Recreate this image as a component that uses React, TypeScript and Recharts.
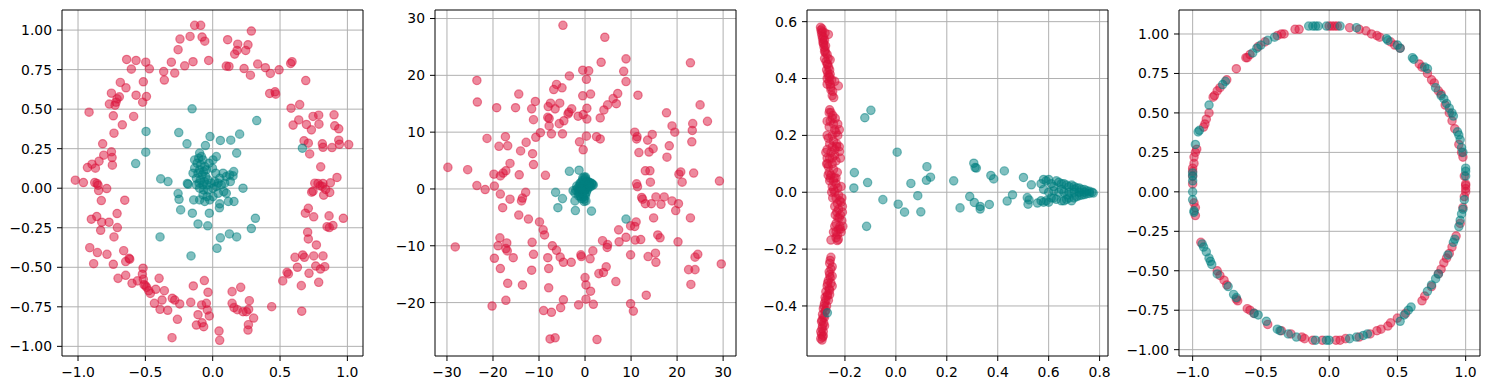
import { ReferenceLine, Scatter, ScatterChart, XAxis, YAxis } from 'recharts';

type Pt = [number, number];

const RED = '#dc143c';
const TEAL = '#008080';

// panel 1: raw circles
const p1Red: Pt[] = [
  [-0.134, 1.03], [-0.089, 1.03], [0.287, 0.994], [-0.168, 0.96], [-0.079, 0.956], [-0.059, 0.93], [-0.243, 0.943],
  [-0.257, 0.876], [0.111, 0.939], [0.186, 0.911], [0.181, 0.871], [0.262, 0.907], [0.245, 0.871], [0.163, 0.848],
  [-0.307, 0.797], [-0.146, 0.8], [-0.03, 0.808], [-0.208, 0.774], [-0.282, 0.728], [-0.364, 0.738], [-0.359, 0.684],
  [-0.497, 0.797], [-0.47, 0.755], [-0.569, 0.808], [-0.639, 0.814], [-0.604, 0.753], [0.101, 0.772], [0.121, 0.77],
  [0.233, 0.757], [0.28, 0.715], [0.334, 0.785], [0.391, 0.762], [0.428, 0.726], [0.493, 0.749], [0.579, 0.789],
  [0.589, 0.8], [0.691, 0.681], [0.423, 0.599], [0.463, 0.61], [0.468, 0.595], [0.582, 0.506], [0.646, 0.529],
  [0.639, 0.432], [0.597, 0.399], [0.696, 0.403], [0.733, 0.369], [0.745, 0.454], [0.787, 0.462], [0.789, 0.405],
  [0.901, 0.464], [0.906, 0.395], [0.936, 0.376], [0.678, 0.3], [0.71, 0.285], [0.72, 0.217], [0.814, 0.281],
  [0.819, 0.259], [0.886, 0.257], [0.936, 0.304], [0.941, 0.278], [1.01, 0.276], [0.802, 0.135], [0.923, 0.068],
  [0.874, 0.034], [0.758, 0.032], [0.782, 0.03], [0.797, 0.015], [0.819, 0.03], [0.839, -0.008], [0.869, -0.027],
  [0.824, -0.044], [0.745, -0.019], [0.735, -0.025], [0.814, 0.011], [0.688, -0.158], [0.71, -0.127], [0.75, -0.181],
  [0.864, -0.175], [0.893, -0.236], [0.849, -0.243], [0.866, -0.249], [0.97, -0.19], [0.705, -0.278], [0.71, -0.321],
  [0.77, -0.359], [0.668, -0.422], [0.681, -0.437], [0.75, -0.428], [0.819, -0.428], [0.832, -0.496], [0.8, -0.511],
  [0.765, -0.492], [0.715, -0.538], [0.787, -0.595], [0.611, -0.437], [0.629, -0.5], [0.552, -0.532], [0.562, -0.542],
  [0.52, -0.586], [0.658, -0.616], [0.661, -0.778], [0.438, -0.749], [0.208, -0.627], [0.144, -0.654], [0.144, -0.728],
  [0.158, -0.755], [0.183, -0.768], [0.225, -0.781], [0.25, -0.781], [0.267, -0.766], [0.304, -0.821], [0.265, -0.863],
  [0.262, -0.897], [0.272, -0.711], [-0.062, -0.584], [-0.144, -0.618], [-0.035, -0.658], [-0.082, -0.738],
  [-0.047, -0.728], [-0.04, -0.77], [-0.109, -0.8], [-0.025, -0.808], [-0.079, -0.851], [-0.067, -0.876],
  [-0.121, -0.865], [0.047, -0.903], [0.052, -0.962], [-0.163, -0.722], [-0.245, -0.732], [-0.262, -0.829],
  [-0.302, -0.945], [-0.3, -0.696], [-0.282, -0.707], [-0.398, -0.57], [-0.359, -0.648], [-0.423, -0.639],
  [-0.376, -0.707], [-0.391, -0.766], [-0.334, -0.772], [-0.433, -0.728], [-0.463, -0.665], [-0.5, -0.616],
  [-0.49, -0.627], [-0.517, -0.506], [-0.522, -0.544], [-0.515, -0.576], [-0.51, -0.61], [-0.475, -0.648],
  [-0.559, -0.586], [-0.616, -0.449], [-0.621, -0.443], [-0.646, -0.551], [-0.599, -0.601], [-0.646, -0.464],
  [-0.661, -0.395], [-0.738, -0.481], [-0.703, -0.57], [-0.913, -0.376], [-0.884, -0.477], [-0.856, -0.407],
  [-0.785, -0.418], [-0.733, -0.308], [-0.708, -0.249], [-0.71, -0.16], [-0.901, -0.196], [-0.861, -0.179],
  [-0.824, -0.215], [-0.832, -0.266], [-0.77, -0.215], [-0.653, -0.076], [-0.827, -0.078], [-1.02, 0.051],
  [-0.96, 0.036], [-0.876, 0.036], [-0.859, 0.03], [-0.847, -0.015], [-0.851, 0.019], [-0.787, -0.002],
  [-0.93, 0.131], [-0.896, 0.152], [-0.871, 0.127], [-0.844, 0.171], [-0.809, 0.209], [-0.817, 0.281],
  [-0.752, 0.23], [-0.747, 0.194], [-0.745, 0.146], [-0.733, 0.348], [-0.671, 0.401], [-0.738, 0.458],
  [-0.918, 0.481], [-0.767, 0.532], [-0.718, 0.544], [-0.752, 0.601], [-0.693, 0.578], [-0.71, 0.565],
  [-0.725, 0.525], [-0.686, 0.669], [-0.644, 0.635], [-0.587, 0.454], [-0.569, 0.588], [-0.52, 0.544],
  [-0.492, 0.58], [-0.515, 0.673],
];

const p1Teal: Pt[] = [
  [-0.153, 0.502], [0.327, 0.428], [-0.495, 0.359], [-0.497, 0.228], [-0.572, 0.156], [-0.252, 0.352],
  [-0.191, 0.281], [-0.02, 0.327], [-0.054, 0.27], [0.057, 0.302], [0.134, 0.304], [0.2, 0.342], [0.178, 0.222],
  [0.666, 0.253], [-0.386, 0.059], [-0.332, 0.042], [-0.257, -0.034], [-0.25, -0.07], [-0.238, -0.137],
  [-0.183, 0.025], [-0.188, 0.03], [0.225, 0], [-0.151, -0.158], [-0.109, -0.226], [-0.037, -0.238],
  [-0.025, -0.158], [-0.391, -0.308], [-0.161, -0.428], [0.032, -0.38], [0.057, -0.314], [0.124, -0.289],
  [0.178, -0.308], [0.287, -0.255], [0.317, -0.19], [0.158, -0.084], [0.101, -0.032], [0.052, -0.099],
  [0.05, -0.124], [0.131, 0.042], [0.151, 0.078],
  [-0.097, 0.222], [-0.084, 0.2], [-0.104, 0.19], [-0.072, 0.179], [-0.116, 0.158], [-0.089, 0.148],
  [-0.059, 0.137], [-0.134, 0.127], [-0.097, 0.116], [-0.067, 0.105], [-0.047, 0.116], [-0.109, 0.095],
  [-0.079, 0.084], [-0.052, 0.074], [-0.121, 0.063], [-0.092, 0.053], [-0.062, 0.042], [-0.035, 0.053],
  [-0.101, 0.032], [-0.072, 0.021], [-0.042, 0.021], [-0.01, 0.032], [0.015, 0.042], [0.04, 0.032],
  [-0.097, 0], [-0.067, -0.011], [-0.035, -0.011], [0.002, 0], [0.027, 0.011], [0.064, 0.021], [0.089, 0.032],
  [-0.072, -0.042], [-0.042, -0.053], [-0.097, -0.074], [-0.022, -0.074], [-0.059, -0.084], [0.002, -0.053],
  [0.04, -0.032], [0.077, 0.095], [0.101, 0.074], [0.126, 0.084], [0.156, 0.105], [0.002, 0.179], [0.027, 0.2],
  [-0.002, 0.127], [-0.027, 0.158], [-0.134, 0.179], [-0.146, 0.095], [-0.121, 0.021], [0.022, 0.095],
  [0.052, 0.063], [0.082, -0.021], [0.116, -0.084], [-0.141, -0.074],
];

// panel 2
const p2Red: Pt[] = [
  [-4.8, 28.8], [4.3, 26.7], [3.5, 22.3], [8.9, 22.9], [22.9, 22.2], [-23.5, 19.1], [-23.4, 15.3], [-0.5, 20.9],
  [0.8, 20.8], [0.3, 19.3], [-3.4, 19.9], [-6.2, 18.4], [-6.8, 17.5], [-5.0, 17.8], [8.4, 20.7], [8.9, 18.9],
  [-14.4, 16.7], [-19.2, 14.3], [-15.1, 14.3], [-11.6, 14.1], [-10.8, 15.4], [-11.2, 12.2], [-9.7, 9.9],
  [-10.7, 9.1], [-11.2, 4.3], [-8.0, 14.5], [-7.5, 15.1], [-6.5, 14.1], [-5.5, 15.1], [-8.1, 12.6], [-7.8, 12.4],
  [-7.8, 11.1], [-7.3, 9.7], [-5.6, 11.5], [-4.9, 9.7], [-4.6, 12.0], [-3.7, 13.2], [-3.5, 13.5], [-2.9, 14.1],
  [-0.5, 16.4], [1.2, 16.7], [0.4, 14.2], [-0.4, 13.1], [-1.5, 12.8], [0.4, 12.3], [-1.2, 8.3], [-0.4, 6.9],
  [0.3, 9.3], [2.5, 9.2], [3.3, 8.8], [3.3, 12.5], [4.1, 13.9], [4.9, 14.8], [6.1, 15.9], [6.8, 15.0], [7.1, 16.8],
  [11.5, 16.5], [-21.3, 8.9], [-18.7, 7.5], [-17.3, 9.2], [-16.8, 7.6], [-12.8, 8.2], [-14.0, 6.7], [-11.4, 6.2],
  [-29.8, 3.8], [-25.5, 3.4], [-23.5, 0.6], [-21.7, -0.1], [-19.7, 0.5], [-19.8, 2.6], [-18.4, 2.3], [-17.8, 2.8],
  [-17.2, 3.2], [-16.3, 4.5], [-14.3, 2.5], [-18.4, -0.9], [-16.3, -1.8], [-17.9, -3.3], [-12.9, -0.6],
  [-13.6, -1.6], [-13.8, -2.1], [-14.4, -4.6], [-12.3, -5.3], [-8.6, 2.4], [-28.2, -10.2], [-18.5, -8.6],
  [-18.9, -10.0], [-17.0, -9.5], [-17.2, -10.5], [-16.9, -10.9], [-19.7, -12.2], [-18.4, -14.0], [-15.6, -12.1],
  [-16.8, -16.6], [-17.2, -19.6], [-20.2, -20.6], [-13.6, -16.9], [-11.5, -9.4], [-11.2, -11.5], [-11.6, -14.3],
  [-9.9, -5.8], [-9.1, -7.2], [-8.8, -8.1], [-8.1, -12.1], [-7.9, -14.0], [-7.9, -17.4], [-9.0, -21.4],
  [-7.3, -21.7], [-7.6, -26.4], [-6.5, -26.2], [-7.1, -10.0], [-6.2, -10.8], [-5.4, -12.0], [-4.7, -12.9],
  [-3.0, -12.9], [-4.7, -19.5], [-5.3, -20.9], [-1.4, -20.4], [-0.9, -11.6], [-0.8, -11.9], [1.1, -12.3],
  [1.7, -10.9], [0, -15.6], [0.2, -16.9], [1.2, -18.0], [0.2, -19.4], [1.8, -20.3], [2.6, -26.5], [3.0, -14.9],
  [4.0, -14.7], [4.6, -13.7], [3.8, -9.1], [4.9, -9.8], [4.8, -10.3], [6.7, -16.3], [7.3, -7.2], [7.4, -9.3],
  [8.9, -8.5], [9.9, -6.5], [9.9, -11.6], [10.8, -6.6], [10.9, -9.0], [12.1, -8.9], [9.9, -20.2], [10.5, -21.5],
  [13.3, -18.7], [11.1, -5.8], [11.2, 0.9], [11.4, 0.4], [12.3, -1.5], [12.5, -1.8], [13.1, -2.6], [14.4, -2.6],
  [15.4, -1.4], [16.5, -2.7], [17.2, -1.4], [18.9, -2.1], [14.9, -5.1], [13.7, -11.9], [15.3, -11.3],
  [15.4, -12.9], [15.8, -8.1], [16.3, -8.6], [19.7, -3.8], [20.3, -2.6], [20.2, -9.3], [22.9, -5.1], [22.5, -14.2],
  [23.0, -16.8], [23.9, -14.2], [23.9, -12.0], [24.5, -11.5], [29.6, -13.2], [29.2, 1.4], [20.4, 2.6], [20.8, 3.0],
  [21.1, 1.2], [23.6, 2.8], [14.1, 3.2], [14.2, 1.2], [13.1, 3.2], [10.8, 10.0], [11.3, 9.2], [13.6, 8.6],
  [14.6, 9.6], [14.8, 7.1], [13.9, 6.5], [11.7, 6.4], [11.2, 8.8], [17.7, 13.4], [18.9, 11.1], [19.5, 10.0],
  [18.3, 7.6], [17.8, 5.6], [23.4, 11.5], [23.3, 10.3], [23.2, 8.3], [26.6, 11.9], [25.0, 14.8],
];

const p2Teal: Pt[] = [
  [-3.4, 3.1], [-1.3, 3.3], [-6.4, -0.6], [-4.9, -1.7], [-5.9, -3.3], [-2.2, -2.1], [-2.1, -3.8], [1.4, -3.9],
  [8.9, -5.3], [0.1, 2.1], [0.2, -2.1], [1.5, 0.9], [0.9, 1.2], [1.8, 0.7],
  [-0.2, 2.1], [0.1, 1.8], [-0.5, 1.5], [0.3, 1.4], [-0.8, 1.2], [0.6, 1.3], [1.0, 1.1], [1.4, 1.0], [1.6, 0.7],
  [-0.3, 1.0], [0.2, 0.9], [-1.0, 0.8], [-0.6, 0.6], [0.0, 0.5], [0.5, 0.6], [0.9, 0.5], [-1.3, 0.4], [-0.9, 0.2],
  [-0.4, 0.3], [0.2, 0.2], [0.7, 0.2], [-1.6, 0.1], [-2.0, -0.2], [-2.6, -0.3], [-1.2, -0.1], [-0.6, -0.1],
  [0.0, -0.2], [0.5, -0.1], [-1.5, -0.5], [-0.9, -0.6], [-0.3, -0.5], [0.3, -0.6], [-1.2, -0.9], [-0.6, -1.0],
  [0.0, -0.9], [-1.0, -1.3], [-0.4, -1.4], [0.1, -1.2], [-0.8, -1.7], [-0.2, -1.8], [-1.4, -1.2], [-2.2, -0.7],
  [-1.8, 0.5], [-0.1, 0.0], [-0.7, 0.0], [-1.1, 1.0], [0.4, 1.0], [-0.2, -2.2], [-0.5, 1.9], [1.2, 0.4],
];

// panel 3
const p3Red: Pt[] = [
  [-0.296, 0.58], [-0.294, 0.57], [-0.292, 0.56], [-0.29, 0.55], [-0.288, 0.54], [-0.285, 0.53], [-0.283, 0.52],
  [-0.282, 0.51], [-0.278, 0.5], [-0.276, 0.49], [-0.28, 0.47], [-0.274, 0.46], [-0.27, 0.45], [-0.272, 0.43],
  [-0.268, 0.42], [-0.265, 0.41], [-0.27, 0.4], [-0.262, 0.39], [-0.258, 0.38], [-0.255, 0.36], [-0.25, 0.34],
  [-0.244, 0.333], [-0.24, 0.39], [-0.258, 0.466], [-0.226, 0.374], [-0.265, 0.555], [-0.278, 0.56],
  [-0.29, 0.575], [-0.288, 0.565], [-0.284, 0.545], [-0.28, 0.535], [-0.286, 0.525], [-0.276, 0.515],
  [-0.28, 0.495], [-0.27, 0.485], [-0.266, 0.47], [-0.268, 0.45], [-0.264, 0.44], [-0.26, 0.43], [-0.258, 0.415],
  [-0.26, 0.405], [-0.252, 0.395], [-0.256, 0.37], [-0.248, 0.355], [-0.27, 0.38],
  [-0.26, 0.29], [-0.255, 0.28], [-0.25, 0.26], [-0.258, 0.25], [-0.245, 0.24], [-0.262, 0.23], [-0.24, 0.22],
  [-0.235, 0.21], [-0.25, 0.2], [-0.228, 0.2], [-0.265, 0.19], [-0.245, 0.18], [-0.232, 0.17], [-0.222, 0.16],
  [-0.27, 0.15], [-0.255, 0.14], [-0.221, 0.143], [-0.233, 0.161], [-0.24, 0.13], [-0.26, 0.12], [-0.235, 0.11],
  [-0.25, 0.1], [-0.265, 0.09], [-0.245, 0.08], [-0.23, 0.07], [-0.255, 0.06], [-0.242, 0.05], [-0.26, 0.04],
  [-0.235, 0.03], [-0.25, 0.02], [-0.228, 0.015], [-0.245, 0.01], [-0.24, 0.0], [-0.225, -0.01], [-0.235, -0.02],
  [-0.22, -0.03], [-0.215, -0.035], [-0.23, -0.04], [-0.21, -0.05], [-0.225, -0.06], [-0.232, -0.07],
  [-0.218, -0.08], [-0.228, -0.09], [-0.212, -0.1], [-0.235, -0.11], [-0.22, -0.12], [-0.225, -0.13],
  [-0.215, -0.14], [-0.23, -0.15], [-0.226, -0.166], [-0.255, -0.168], [-0.235, -0.16],
  [-0.275, 0.14], [-0.27, 0.12], [-0.268, 0.1], [-0.262, 0.07], [-0.258, 0.05], [-0.252, 0.0], [-0.248, -0.02],
  [-0.24, -0.05], [-0.238, -0.08], [-0.24, -0.12], [-0.235, -0.14], [-0.215, 0.02], [-0.212, -0.02],
  [-0.21, -0.07], [-0.208, -0.12], [-0.218, 0.12], [-0.222, 0.22], [-0.228, 0.24], [-0.238, 0.26],
  [-0.248, 0.27], [-0.27, 0.2], [-0.272, 0.1], [-0.266, 0.06], [-0.24, 0.15], [-0.25, 0.16], [-0.26, 0.17],
  [-0.235, 0.05], [-0.245, 0.04], [-0.222, -0.09], [-0.218, -0.13], [-0.23, -0.17], [-0.245, -0.14],
  [-0.25, 0.12], [-0.262, 0.28], [-0.27, 0.25],
  [-0.255, -0.229], [-0.258, -0.24], [-0.25, -0.262], [-0.255, -0.27], [-0.25, -0.295], [-0.26, -0.29],
  [-0.265, -0.31], [-0.255, -0.32], [-0.27, -0.33], [-0.262, -0.34], [-0.275, -0.35], [-0.268, -0.36],
  [-0.278, -0.37], [-0.265, -0.38], [-0.28, -0.39], [-0.272, -0.4], [-0.285, -0.41], [-0.278, -0.42],
  [-0.288, -0.43], [-0.28, -0.44], [-0.29, -0.45], [-0.283, -0.46], [-0.288, -0.47], [-0.29, -0.48],
  [-0.285, -0.49], [-0.292, -0.5], [-0.288, -0.51], [-0.29, -0.52],
  [-0.26, -0.25], [-0.262, -0.28], [-0.258, -0.3], [-0.268, -0.32], [-0.26, -0.345], [-0.27, -0.365],
  [-0.275, -0.38], [-0.282, -0.4], [-0.275, -0.415], [-0.285, -0.44], [-0.292, -0.455], [-0.28, -0.47],
  [-0.295, -0.49], [-0.285, -0.505], [-0.295, -0.515], [-0.25, -0.33], [-0.26, -0.36],
];

const p3Teal: Pt[] = [
  [-0.122, 0.262], [-0.098, 0.288], [-0.163, 0.069], [-0.165, 0.015], [-0.111, 0.034], [-0.115, -0.12],
  [0.005, 0.141], [-0.051, -0.026], [0.009, -0.042], [0.034, -0.07], [0.059, 0.031], [0.086, -0.012],
  [0.098, -0.069], [0.122, 0.09], [0.12, 0.042], [0.136, 0.053], [0.227, 0.04], [0.252, -0.055], [0.29, -0.015],
  [0.306, 0.102], [0.311, 0.087], [0.316, 0.085], [0.308, -0.036], [0.331, -0.05], [0.331, -0.059],
  [0.367, -0.043], [0.373, 0.059], [0.384, 0.047], [0.426, 0.075], [0.437, -0.031], [0.458, -0.009],
  [0.501, 0.052], [0.516, -0.019], [0.523, -0.027], [0.519, -0.042], [0.556, -0.038], [0.532, 0.026],
  [0.57, 0.03], [0.58, 0.045], [0.59, 0.04], [0.6, 0.045], [0.61, 0.03], [0.62, 0.02], [0.63, 0.04], [0.64, 0.035],
  [0.65, 0.03], [0.66, 0.03], [0.67, 0.025], [0.68, 0.02], [0.69, 0.025], [0.7, 0.02], [0.71, 0.015],
  [0.72, 0.015], [0.73, 0.01], [0.74, 0.01], [0.75, 0.005], [0.76, 0.003], [0.77, 0.0], [0.775, -0.003],
  [0.57, -0.03], [0.58, -0.035], [0.59, -0.03], [0.6, -0.035], [0.61, -0.02], [0.62, -0.02], [0.63, -0.025],
  [0.65, -0.03], [0.66, -0.03], [0.67, -0.025], [0.68, -0.02], [0.69, -0.03], [0.7, -0.02], [0.71, -0.015],
  [0.72, -0.012], [0.73, -0.01], [0.74, -0.008], [0.75, -0.005], [0.76, -0.004], [0.6, 0.0], [0.62, 0.005],
  [0.64, 0.0], [0.66, 0.0], [0.68, 0.0], [0.7, 0.0], [0.72, 0.0], [0.74, 0.0], [0.58, 0.01], [0.65, 0.01],
  [0.675, -0.01], [0.7, 0.01], [-0.269, -0.424],
];

// panel 4
const p4Red: Pt[] = [
  [0.0, 1.05], [0.02, 1.05], [0.04, 1.05], [0.06, 1.05], [-0.25, 1.03], [-0.22, 1.03], [0.15, 1.04], [0.22, 1.03],
  [0.27, 1.02], [-0.38, 0.99], [-0.35, 1.0], [-0.33, 1.0], [-0.47, 0.95], [-0.52, 0.92], [-0.58, 0.87],
  [-0.6, 0.85], [-0.61, 0.85], [-0.68, 0.78], [-0.75, 0.71], [-0.8, 0.66], [-0.82, 0.64], [-0.84, 0.61],
  [-0.85, 0.6], [-0.88, 0.5], [-0.9, 0.46], [-0.91, 0.43], [-0.92, 0.41], [-0.97, 0.27], [-0.98, 0.25],
  [-0.99, 0.22], [-0.99, 0.18], [-1.0, 0.15], [-1.0, 0.13], [-1.0, 0.1], [-1.0, 0.05], [-0.99, -0.07],
  [-0.98, -0.1], [-0.98, -0.15], [-0.94, -0.32], [-0.82, -0.5], [-0.8, -0.53], [-0.77, -0.56], [-0.75, -0.59],
  [-0.68, -0.68], [-0.67, -0.69], [-0.6, -0.74], [-0.58, -0.75], [-0.55, -0.77], [-0.45, -0.84], [-0.35, -0.88],
  [-0.28, -0.9], [-0.2, -0.92], [-0.18, -0.93], [-0.12, -0.94], [-0.05, -0.94], [0.05, -0.94], [0.08, -0.94],
  [0.12, -0.93], [0.22, -0.92], [0.3, -0.9], [0.35, -0.88], [0.38, -0.87], [0.43, -0.85], [0.45, -0.83],
  [0.5, -0.8], [0.56, -0.77], [0.68, -0.69], [0.7, -0.66], [0.75, -0.6], [0.8, -0.52], [0.82, -0.49],
  [0.84, -0.45], [0.86, -0.42], [0.88, -0.39], [0.9, -0.35], [0.93, -0.28], [0.96, -0.2], [0.98, -0.1],
  [0.99, -0.03], [1.0, 0.0], [1.0, 0.02], [1.0, 0.04], [1.0, 0.05], [0.99, 0.1], [0.98, 0.22], [0.97, 0.25],
  [0.95, 0.3], [0.92, 0.4], [0.9, 0.45], [0.88, 0.5], [0.85, 0.55], [0.82, 0.62], [0.8, 0.64], [0.77, 0.69],
  [0.75, 0.71], [0.72, 0.75], [0.68, 0.79], [0.66, 0.81], [0.52, 0.91], [0.48, 0.93], [0.45, 0.95], [0.35, 0.99],
  [0.37, 0.98], [0.31, 1.0],
];

const p4Teal: Pt[] = [
  [-0.15, 1.05], [-0.12, 1.05], [-0.1, 1.05], [-0.08, 1.05], [-0.02, 1.05], [0.08, 1.05], [0.2, 1.04],
  [-0.4, 0.98], [-0.45, 0.96], [-0.5, 0.93], [-0.53, 0.91], [-0.56, 0.88], [-0.76, 0.7], [-0.78, 0.68],
  [-0.88, 0.55], [-0.95, 0.39], [-0.96, 0.38], [-0.98, 0.3], [-1.0, 0.12], [-1.0, 0.1], [-1.0, 0.07], [-1.0, 0.0],
  [-1.0, -0.05], [-0.99, -0.12], [-0.99, -0.13], [-0.93, -0.33], [-0.92, -0.35], [-0.9, -0.38], [-0.88, -0.42],
  [-0.87, -0.44], [-0.86, -0.46], [-0.82, -0.52], [-0.74, -0.6], [-0.7, -0.65], [-0.68, -0.67], [-0.55, -0.77],
  [-0.52, -0.78], [-0.46, -0.82], [-0.38, -0.87], [-0.36, -0.88], [-0.3, -0.9], [-0.24, -0.92], [-0.1, -0.94],
  [-0.02, -0.94], [0.0, -0.94], [0.15, -0.93], [0.2, -0.92], [0.25, -0.91], [0.28, -0.9], [0.52, -0.82],
  [0.55, -0.78], [0.58, -0.75], [0.6, -0.73], [0.72, -0.63], [0.75, -0.59], [0.78, -0.55], [0.8, -0.52],
  [0.87, -0.4], [0.91, -0.32], [0.92, -0.3], [0.95, -0.22], [0.96, -0.18], [0.97, -0.14], [0.98, -0.11],
  [0.99, -0.05], [1.0, 0.1], [1.0, 0.13], [1.0, 0.15], [0.98, 0.25], [0.97, 0.28], [0.96, 0.33], [0.95, 0.36],
  [0.94, 0.38], [0.91, 0.48], [0.9, 0.5], [0.88, 0.53], [0.86, 0.56], [0.84, 0.59], [0.82, 0.61], [0.78, 0.66],
  [0.72, 0.78], [0.7, 0.79], [0.62, 0.84], [0.61, 0.85], [0.52, 0.91], [0.5, 0.93], [0.43, 0.96], [0.42, 0.97],
];

const unitTicks = [-1, -0.5, 0, 0.5, 1];
const quarterTicks = [-1, -0.75, -0.5, -0.25, 0, 0.25, 0.5, 0.75, 1];
const p2XTicks = [-30, -20, -10, 0, 10, 20, 30];
const p2YTicks = [-20, -10, 0, 10, 20, 30];
const p3XTicks = [-0.2, 0, 0.2, 0.4, 0.6, 0.8];
const p3YTicks = [-0.4, -0.2, 0, 0.2, 0.4, 0.6];

const FONT = { fill: '#000', fontSize: 13.9, fontFamily: 'DejaVu Sans' };
const Y_W = 62;
const PLOT_W = 301;
const GRID = '#b0b0b0';

const fmt = (d: number) => (v: number) => v.toFixed(d).replace('-', '\u2212');
const rows = (pts: Pt[]) => pts.map(([x, y]) => ({ x, y }));

function Dot(props: any) {
  const { cx, cy, fill } = props;
  if (cx == null || cy == null) return null;
  return (
    <circle cx={cx} cy={cy} r={4.17} fill={fill} fillOpacity={0.5}
      stroke={fill} strokeOpacity={0.5} strokeWidth={1.2} />
  );
}

interface PanelProps {
  left: number;
  red: Pt[];
  teal: Pt[];
  xDomain: [number, number];
  yDomain: [number, number];
  xTicks: number[];
  yTicks: number[];
  xDec: number;
  yDec: number;
}

function Panel({ left, red, teal, xDomain, yDomain, xTicks, yTicks, xDec, yDec }: PanelProps) {
  return (
    <div style={{ position: 'absolute', left: left - Y_W, top: 0 }}>
      <ScatterChart width={Y_W + PLOT_W + 10} height={390}
        margin={{ top: 10, right: 10, bottom: 10, left: 0 }}>
        <XAxis type="number" dataKey="x" domain={xDomain} ticks={xTicks} allowDataOverflow
          interval={0} tickFormatter={fmt(xDec)} tick={FONT} height={24}
          tickSize={5} tickMargin={6} tickLine={{ stroke: '#000' }} axisLine={{ stroke: '#000' }} />
        <YAxis type="number" dataKey="y" domain={yDomain} ticks={yTicks} allowDataOverflow
          interval={0} tickFormatter={fmt(yDec)} tick={FONT} width={Y_W}
          tickSize={5} tickMargin={5} tickLine={{ stroke: '#000' }} axisLine={{ stroke: '#000' }} />
        <Scatter data={rows(red)} fill={RED} shape={(p: any) => <Dot {...p} />} isAnimationActive={false} />
        <Scatter data={rows(teal)} fill={TEAL} shape={(p: any) => <Dot {...p} />} isAnimationActive={false} />
        {xTicks.map((t) => (
          <ReferenceLine key={`gx${t}`} x={t} stroke={GRID} strokeWidth={1} />
        ))}
        {yTicks.map((t) => (
          <ReferenceLine key={`gy${t}`} y={t} stroke={GRID} strokeWidth={1} />
        ))}
        <ReferenceLine x={xDomain[1]} stroke="#000" strokeWidth={1} />
        <ReferenceLine y={yDomain[1]} stroke="#000" strokeWidth={1} />
      </ScatterChart>
    </div>
  );
}

export default function App() {
  return (
    <div style={{ position: 'absolute', left: 0, top: 0, width: 1489, height: 390, background: '#fff', overflow: 'hidden' }}>
      <Panel left={62} red={p1Red} teal={p1Teal} xDomain={[-1.119, 1.116]} yDomain={[-1.061, 1.127]}
        xTicks={unitTicks} yTicks={quarterTicks} xDec={1} yDec={2} />
      <Panel left={435} red={p2Red} teal={p2Teal} xDomain={[-32.6, 32.8]} yDomain={[-29.4, 31.5]}
        xTicks={p2XTicks} yTicks={p2YTicks} xDec={0} yDec={0} />
      <Panel left={807} red={p3Red} teal={p3Teal} xDomain={[-0.349, 0.833]} yDomain={[-0.576, 0.641]}
        xTicks={p3XTicks} yTicks={p3YTicks} xDec={1} yDec={1} />
      <Panel left={1179} red={p4Red} teal={p4Teal} xDomain={[-1.1, 1.105]} yDomain={[-1.04, 1.152]}
        xTicks={unitTicks} yTicks={quarterTicks} xDec={1} yDec={2} />
    </div>
  );
}
